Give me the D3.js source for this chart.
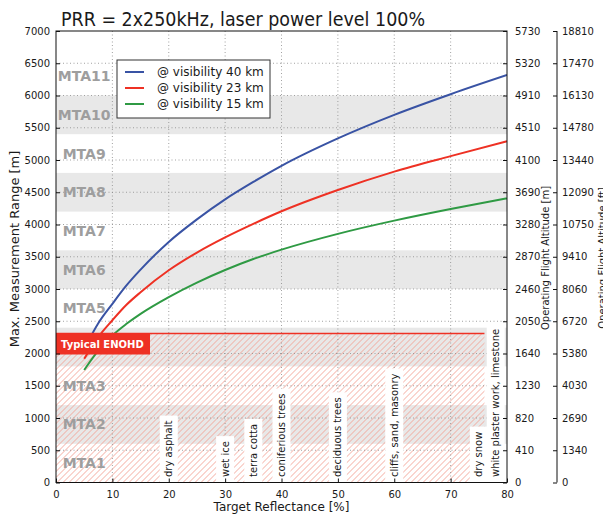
<!DOCTYPE html>
<html>
<head>
<meta charset="utf-8">
<script src="https://cdn.jsdelivr.net/npm/d3@7/dist/d3.min.js"></script>
<style>
  html, body { margin: 0; padding: 0; background: #fff; }
  svg { display: block; font-family: "DejaVu Sans", sans-serif; }
</style>
</head>
<body>
<svg id="chart" width="603" height="517"></svg>
<script>
// Target reflectance [%] at which the range curves are sampled
const reflectance = [5, 7.5, 10, 12.5, 15, 20, 25, 30, 35, 40, 50, 60, 70, 80];
// Max. measurement range [m] per atmospheric visibility
const range40 = [2070, 2470, 2770, 3055, 3300, 3730, 4080, 4390, 4660, 4910, 5335, 5700, 6020, 6317];
const range23 = [1920, 2255, 2515, 2755, 2950, 3290, 3565, 3800, 4010, 4205, 4535, 4820, 5060, 5290];
const range15 = [1745, 2045, 2280, 2460, 2615, 2875, 3100, 3295, 3465, 3610, 3855, 4060, 4240, 4405];
const seriesLabels = ["@ visibility 40 km", "@ visibility 23 km", "@ visibility 15 km"];
const seriesColors = ["#3953a4", "#ee3124", "#2f9a44"];

// Range ticks and the matching flight-altitude labels
const rangeTicks = [0, 500, 1000, 1500, 2000, 2500, 3000, 3500, 4000, 4500, 5000, 5500, 6000, 6500, 7000];
const altitudeM = [0, 410, 820, 1230, 1640, 2050, 2460, 2870, 3280, 3690, 4100, 4510, 4910, 5320, 5730];
const altitudeFt = [0, 1340, 2690, 4030, 5380, 6720, 8060, 9410, 10750, 12090, 13440, 14780, 16130, 17470, 18810];
const reflTicks = [0, 10, 20, 30, 40, 50, 60, 70, 80];

// Multiple-time-around zones
const mtaNames = ["MTA1", "MTA2", "MTA3", "MTA4", "MTA5", "MTA6", "MTA7", "MTA8", "MTA9", "MTA10", "MTA11"];
const mtaStart = [0, 600, 1200, 1800, 2400, 3000, 3600, 4200, 4800, 5400, 6000];
const mtaEnd = [600, 1200, 1800, 2400, 3000, 3600, 4200, 4800, 5400, 6000, 6600];
const mtaLabelRefl = 5;

// Typical eye-safety distance (ENOHD) zone
const enohdRange = 2310;
const enohdReflMax = 76;
const enohdLabel = "Typical ENOHD";

// Typical target materials
const targetNames = ["dry asphalt", "wet ice", "terra cotta", "coniferious trees", "deciduous trees",
  "cliffs, sand, masonry", "dry snow", "white plaster work, limestone"];
const targetRefl = [20, 30, 35, 40, 50, 60, 75, 78];

const svg = d3.select("#chart");
const L = 56, R = 507, T = 31, B = 482.5;
const x = d3.scaleLinear().domain([0, 80]).range([L, R]);
const y = d3.scaleLinear().domain([0, 7000]).range([B, T]);
const textColor = "#1a1a1a";

const defs = svg.append("defs");
defs.append("clipPath").attr("id", "plotclip").append("rect")
  .attr("x", L).attr("y", T).attr("width", R - L).attr("height", B - T);
const hx0 = x(0), hx1 = x(enohdReflMax), hy0 = y(enohdRange), hy1 = y(0);
defs.append("clipPath").attr("id", "hatchclip").append("rect")
  .attr("x", hx0).attr("y", hy0).attr("width", hx1 - hx0).attr("height", hy1 - hy0);

const plot = svg.append("g").attr("clip-path", "url(#plotclip)");

// Shaded even MTA zones
plot.selectAll("rect.mta").data(mtaNames.map((n, i) => i).filter(i => i % 2 === 1))
  .enter().append("rect").attr("class", "mta")
  .attr("x", L).attr("width", R - L)
  .attr("y", i => y(mtaEnd[i])).attr("height", i => y(mtaStart[i]) - y(mtaEnd[i]))
  .attr("fill", "#e8e8e8");

// ENOHD hatched area: diagonal strokes clipped to the zone
const hH = hy1 - hy0;
const hatchOffsets = d3.range(-hH, hx1 - hx0 + 6, 6);
plot.append("g").attr("clip-path", "url(#hatchclip)")
  .selectAll("line").data(hatchOffsets).enter().append("line")
  .attr("x1", d => hx0 + d).attr("y1", hy1)
  .attr("x2", d => hx0 + d + hH).attr("y2", hy0)
  .attr("stroke", "#f29c8e").attr("stroke-width", 0.85);

// Grid
const grid = plot.append("g").attr("stroke", "#8a8a8a").attr("stroke-width", 0.8)
  .attr("stroke-dasharray", "1,2.5");
grid.selectAll("line.gx").data(reflTicks.slice(1, -1)).enter().append("line")
  .attr("x1", d => x(d)).attr("x2", d => x(d)).attr("y1", T).attr("y2", B);
grid.selectAll("line.gy").data(rangeTicks.slice(1, -1)).enter().append("line")
  .attr("x1", L).attr("x2", R).attr("y1", d => y(d)).attr("y2", d => y(d));

// MTA zone labels (the one under the ENOHD label box is left out)
const mtaVisible = mtaNames.map((n, i) => i)
  .filter(i => !((mtaStart[i] + mtaEnd[i]) / 2 < enohdRange && (mtaStart[i] + mtaEnd[i]) / 2 > enohdRange - 330));
plot.selectAll("text.mta").data(mtaVisible).enter().append("text")
  .attr("x", x(mtaLabelRefl)).attr("y", i => y((mtaStart[i] + mtaEnd[i]) / 2))
  .attr("dy", "0.36em").attr("text-anchor", "middle")
  .attr("font-size", 14).attr("font-weight", "bold").attr("fill", "#9e9e9e")
  .text(i => mtaNames[i]);

// Range curves
const series = [range40, range23, range15];
const line = d3.line().x((d, i) => x(reflectance[i])).y(d => y(d)).curve(d3.curveMonotoneX);
plot.selectAll("path.curve").data(series).enter().append("path")
  .attr("d", d => line(d)).attr("fill", "none")
  .attr("stroke", (d, i) => seriesColors[i]).attr("stroke-width", 2);

// ENOHD limit line
plot.append("line").attr("x1", hx0).attr("x2", hx1)
  .attr("y1", hy0).attr("y2", hy0)
  .attr("stroke", "#ee3124").attr("stroke-width", 1.5);

// Target material labels
const tg = plot.append("g");
targetNames.forEach((name, i) => {
  const g = tg.append("g");
  const cx = x(targetRefl[i]);
  const t = g.append("text")
    .attr("transform", `translate(${cx},477) rotate(-90)`)
    .attr("dy", "0.35em").attr("font-size", 10).attr("fill", textColor)
    .text(name);
  const len = t.node().getComputedTextLength();
  g.insert("rect", "text")
    .attr("x", cx - 9).attr("width", 18)
    .attr("y", 477 - len - 5).attr("height", len + 11)
    .attr("fill", "#fff");
});

// ENOHD label box
const eb = plot.append("g");
eb.append("rect").attr("x", L).attr("y", hy0).attr("width", 94).attr("height", 21)
  .attr("fill", "#ee3124");
eb.append("text").attr("x", 61).attr("y", hy0 + 14.5)
  .attr("font-size", 10).attr("font-weight", "bold").attr("fill", "#fff")
  .text(enohdLabel);

// Frame
svg.append("rect").attr("x", L).attr("y", T).attr("width", R - L).attr("height", B - T)
  .attr("fill", "none").attr("stroke", "#111").attr("stroke-width", 1);

// Axes
function styleAxis(g) {
  g.select(".domain").remove();
  g.selectAll("text").attr("font-size", 10).attr("fill", textColor)
    .attr("font-family", "DejaVu Sans, sans-serif");
  g.selectAll("line").attr("stroke", "#111");
}
svg.append("g").attr("transform", `translate(${L},0)`)
  .call(d3.axisLeft(y).tickValues(rangeTicks).tickSizeInner(-4).tickSizeOuter(0).tickPadding(6)
    .tickFormat(d3.format("d")))
  .call(styleAxis);
svg.append("g").attr("transform", `translate(0,${B})`)
  .call(d3.axisBottom(x).tickValues(reflTicks).tickSizeInner(-4).tickSizeOuter(0).tickPadding(8)
    .tickFormat(d3.format("d")))
  .call(styleAxis);
svg.append("g").attr("transform", `translate(${R},0)`)
  .call(d3.axisRight(y).tickValues(rangeTicks).tickSizeInner(-4).tickSizeOuter(0).tickPadding(8)
    .tickFormat((d, i) => altitudeM[i]))
  .call(styleAxis);
const ax2 = svg.append("g").attr("transform", "translate(557,0)")
  .call(d3.axisRight(y).tickValues(rangeTicks).tickSizeInner(-4).tickSizeOuter(0).tickPadding(5)
    .tickFormat((d, i) => altitudeFt[i]))
  .call(styleAxis);
ax2.append("line").attr("x1", 0).attr("x2", 0).attr("y1", T).attr("y2", B)
  .attr("stroke", "#111").attr("stroke-width", 1);

// Axis titles
svg.append("text").attr("x", (L + R) / 2).attr("y", 511).attr("text-anchor", "middle")
  .attr("font-size", 12).attr("fill", textColor).text("Target Reflectance [%]");
svg.append("text").attr("transform", "translate(19,249) rotate(-90)").attr("text-anchor", "middle")
  .attr("font-size", 13).attr("fill", textColor).text("Max. Measurement Range [m]");
svg.append("text").attr("transform", "translate(549,258) rotate(-90)").attr("text-anchor", "middle")
  .attr("font-size", 10).attr("fill", textColor).text("Operating Flight Altitude [m]");
svg.append("text").attr("transform", "translate(606,258) rotate(-90)").attr("text-anchor", "middle")
  .attr("font-size", 10).attr("fill", textColor).text("Operating Flight Altitude [ft]");

// Title
svg.append("text").attr("x", 61).attr("y", 26)
  .attr("font-size", 19).attr("textLength", 364).attr("lengthAdjust", "spacingAndGlyphs")
  .attr("fill", textColor)
  .text("PRR = 2x250kHz, laser power level 100%");

// Legend
const lg = svg.append("g");
lg.append("rect").attr("x", 117).attr("y", 60).attr("width", 153).attr("height", 58)
  .attr("fill", "#fff").attr("stroke", "#333").attr("stroke-width", 1);
seriesLabels.forEach((lab, i) => {
  const yy = 72 + i * 16;
  lg.append("line").attr("x1", 125).attr("x2", 144).attr("y1", yy).attr("y2", yy)
    .attr("stroke", seriesColors[i]).attr("stroke-width", 2);
  lg.append("text").attr("x", 157).attr("y", yy).attr("dy", "0.36em")
    .attr("font-size", 12).attr("fill", textColor).text(lab);
});
</script>
</body>
</html>
